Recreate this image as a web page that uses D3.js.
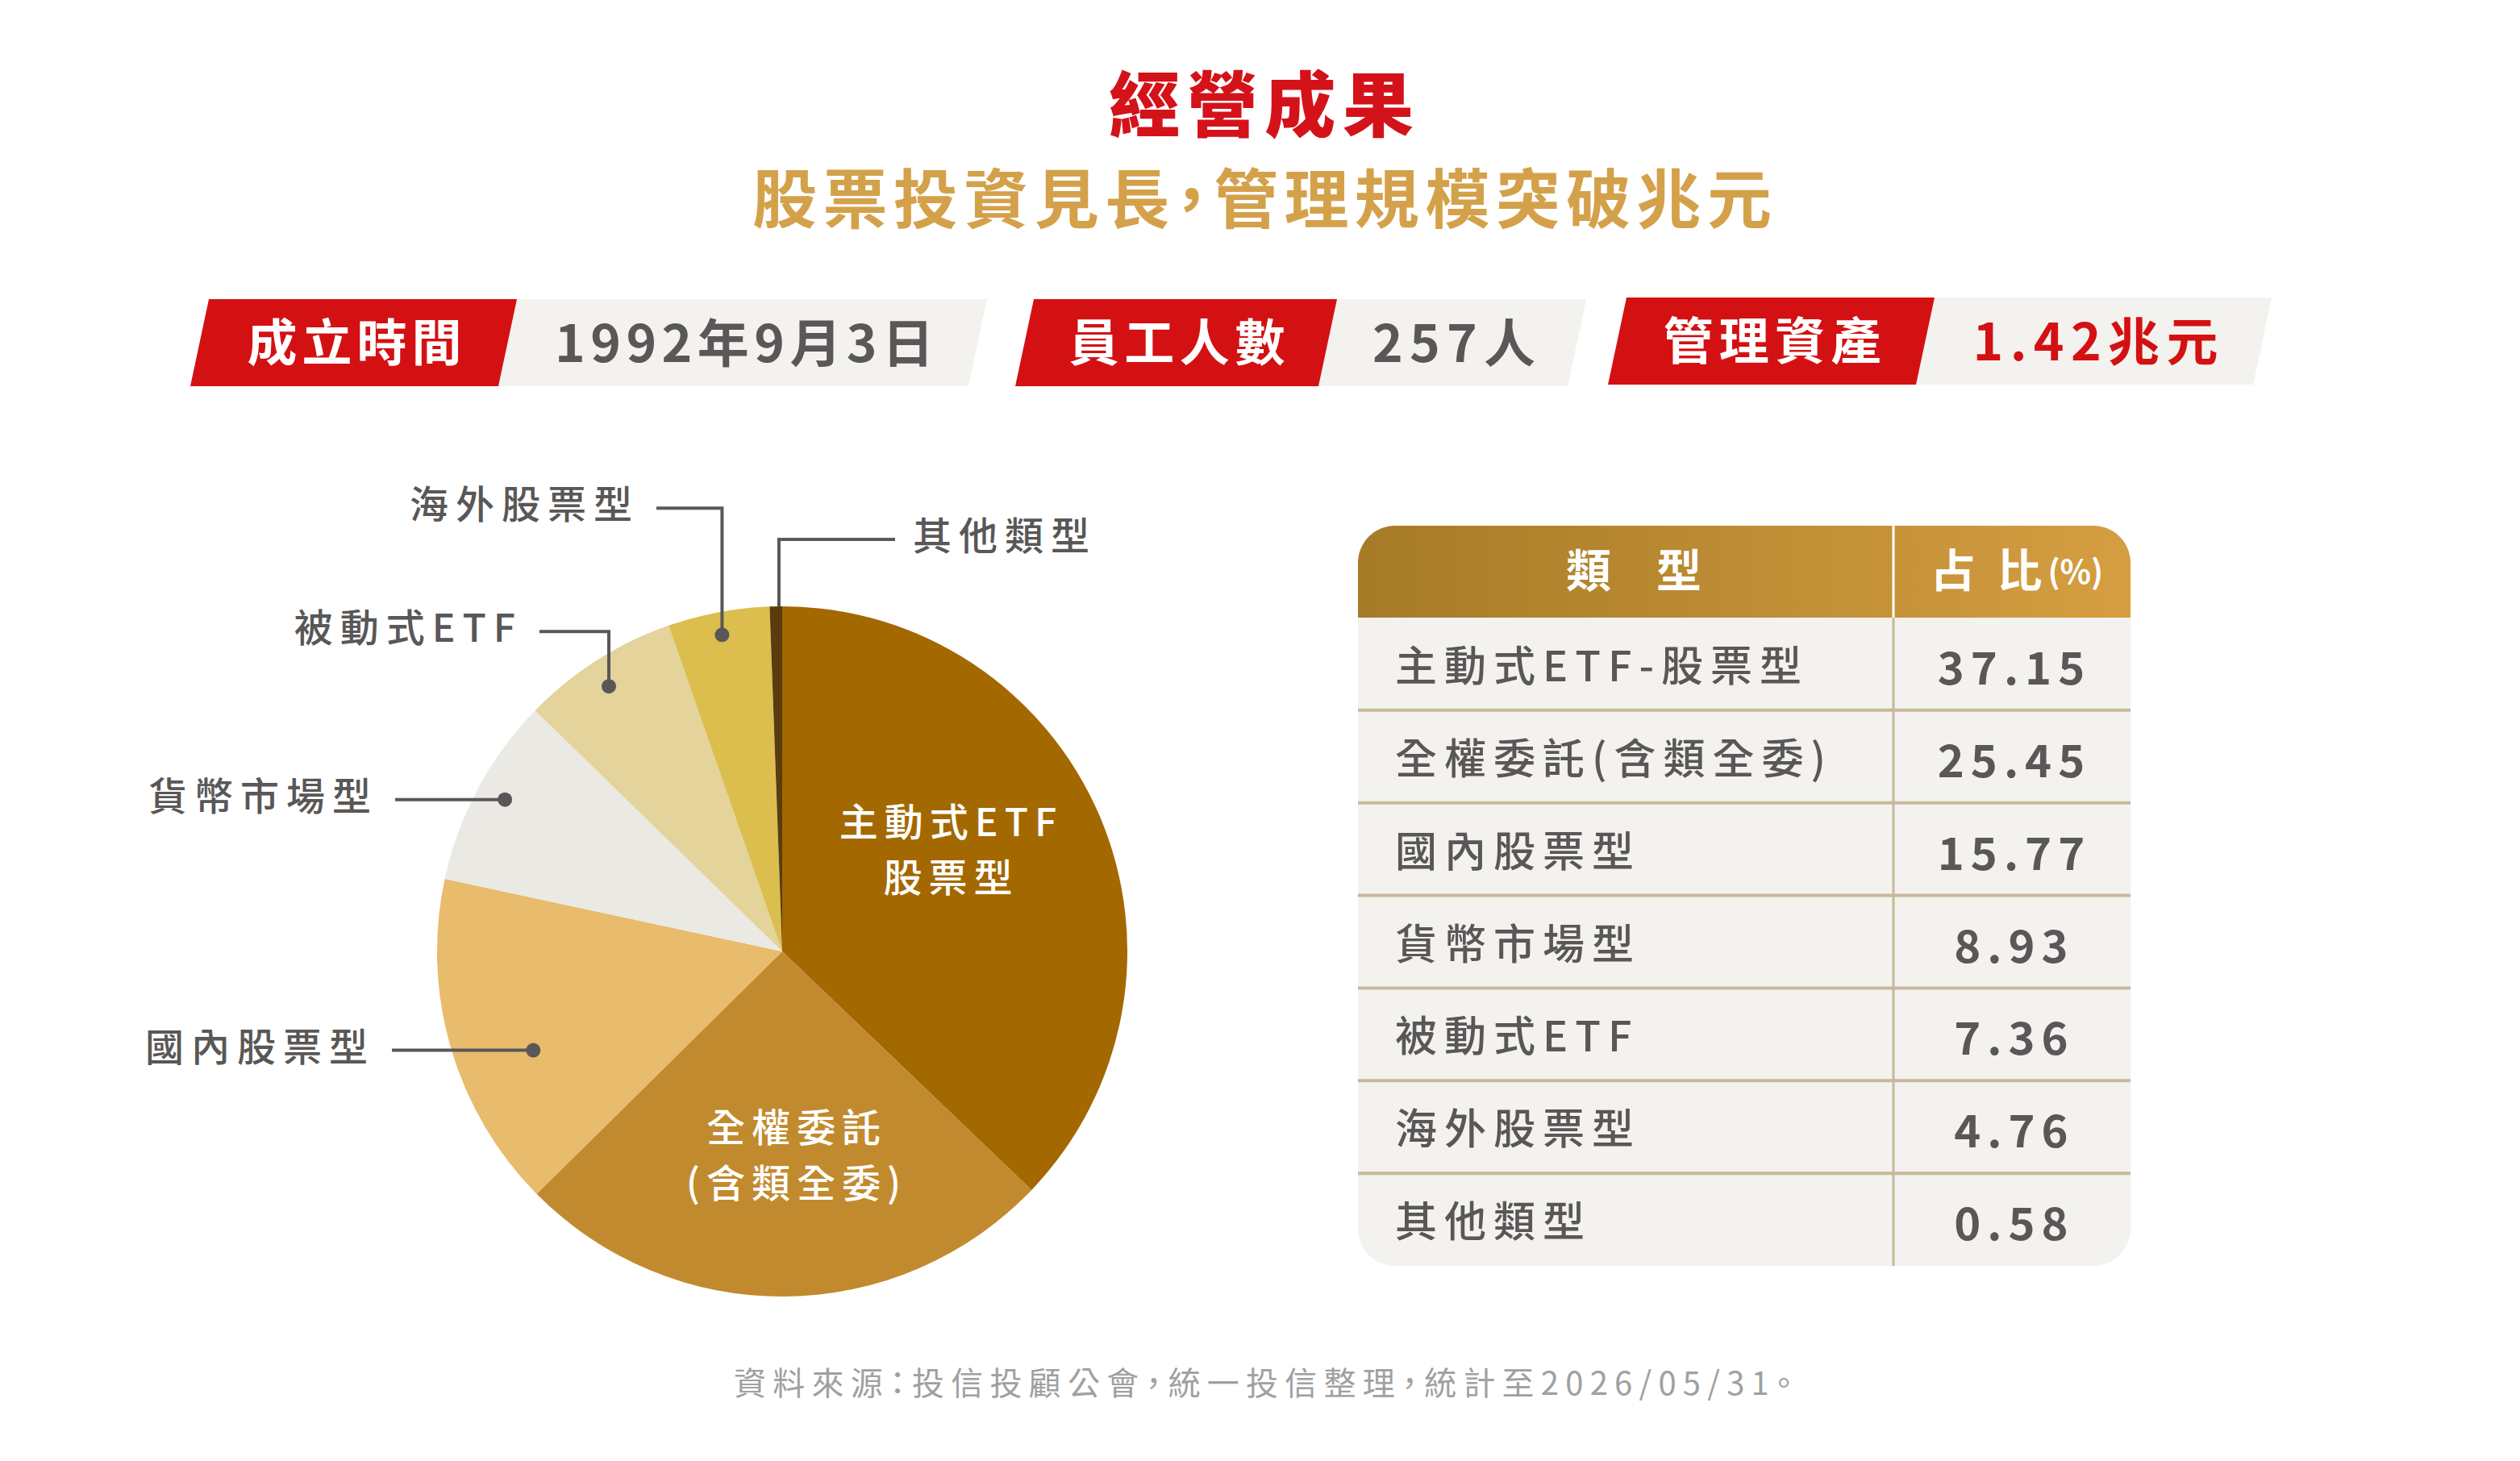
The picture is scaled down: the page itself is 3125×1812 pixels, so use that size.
<!DOCTYPE html>
<html><head><meta charset="utf-8">
<script src="https://cdn.jsdelivr.net/npm/d3@7"></script>
<style>
html,body{margin:0;padding:0;background:#fff;}
svg{display:block;}
text{font-family:"Noto Sans CJK TC","Noto Sans CJK SC",sans-serif;}
</style></head><body>
<svg id="chart" width="3125" height="1812"></svg>
<script>
// ---------- DATA ----------
const categories = ["主動式ETF-股票型","全權委託(含類全委)","國內股票型","貨幣市場型","被動式ETF","海外股票型","其他類型"];
const values = [37.15, 25.45, 15.77, 8.93, 7.36, 4.76, 0.58];
const pieLabels = [["主動式ETF","股票型"],["全權委託","(含類全委)"],["國內股票型"],["貨幣市場型"],["被動式ETF"],["海外股票型"],["其他類型"]];
const sliceColors = ["#A36800","#C28A2E","#E8BB6D","#EAE9E3","#E4D39A","#DBBE4E","#5A3C0E"];
const infoLabels = ["成立時間","員工人數","管理資產"];
const infoValues = ["1992年9月3日","257人","1.42兆元"];
const tableHeaders = ["類　型","占 比"];
const headerUnit = "(%)";
const titleText = "經營成果";
const subtitleText = "股票投資見長，管理規模突破兆元";
const sourceText = "資料來源：投信投顧公會，統一投信整理，統計至2026/05/31。";

// ---------- LAYOUT ----------
const svg = d3.select("#chart");
svg.append("rect").attr("width",3125).attr("height",1812).attr("fill","#fff");
const GRAY_TXT = "#595757", RED = "#D31113", PANEL = "#F3F2EE", TAN = "#C8B89B";
const TY = -4; // baseline correction

function txt(g, s, x, y, size, weight, fill, opts={}) {
  const t = g.append("text").attr("x", x).attr("y", y + TY)
    .attr("font-size", size).attr("font-weight", weight).attr("fill", fill)
    .attr("dominant-baseline","central")
    .attr("text-anchor", opts.anchor || "middle")
    .text(s);
  if (opts.len) t.attr("textLength", opts.len).attr("lengthAdjust","spacing");
  if (opts.ls) t.style("letter-spacing", opts.ls + "px");
  if (opts.palt) t.style("font-feature-settings", "'palt'");
  return t;
}

// Titles
txt(svg, titleText, 1564, 127, 88, 900, "#D4121A", {len: 378});
txt(svg, subtitleText, 1565, 245, 80, 700, "#D4A14B", {len: 1264, palt: true});

// Info bar
const info = [
  {x: 236, y: 371, redW: 382, grayW: 583},
  {x: 1259, y: 371, redW: 376, grayW: 309},
  {x: 1994, y: 369, redW: 382, grayW: 418}
];
const labelLens = [266, 268, 270];
const valueLens = [470, 202, 304];
const slant = 23, barH = 108;
info.forEach((b, i) => {
  const g = svg.append("g");
  const poly = (x0, w) => [[x0+slant,b.y],[x0+slant+w,b.y],[x0+w,b.y+barH],[x0,b.y+barH]];
  g.append("polygon").attr("points", poly(b.x + b.redW, b.grayW).join(" ")).attr("fill", PANEL);
  g.append("polygon").attr("points", poly(b.x, b.redW).join(" ")).attr("fill", RED);
  const cy = b.y + barH/2;
  txt(g, infoLabels[i], b.x + slant/2 + b.redW/2 + 1, cy, 62, 700, "#fff", {len: labelLens[i]});
  txt(g, infoValues[i], b.x + b.redW + slant/2 + b.grayW/2 + 2, cy, 64, 700, i === 2 ? RED : GRAY_TXT, {len: valueLens[i]});
});

// Pie
const cx = 970, cy = 1180, R = 428;
const pie = d3.pie().sort(null).value(d => d)(values);
const arc = d3.arc().innerRadius(0).outerRadius(R);
const pg = svg.append("g").attr("transform", `translate(${cx},${cy})`);
pg.selectAll("path").data(pie).join("path")
  .attr("d", arc).attr("fill", (d,i) => sliceColors[i]);

const polar = (r, a) => [r*Math.sin(a), -r*Math.cos(a)];
const deg = Math.PI/180;
// inside labels
const inside = [{idx:0, rf:0.57, da:-7.7}, {idx:1, rf:0.593, da:-3.6}];
inside.forEach(L => {
  const d = pie[L.idx];
  const [x, y] = polar(R*L.rf, (d.startAngle+d.endAngle)/2 + L.da*deg);
  const lines = pieLabels[L.idx];
  lines.forEach((s, k) => {
    txt(pg, s, x, y + (k - (lines.length-1)/2)*69, 48, 500, "#fff", {ls: 8});
  });
});
// outside labels with leaders
const outside = [
  {idx:2, rf:0.776, da:-5.4, rise:0,   lineTo:-484},
  {idx:3, rf:0.916, da:0.5,  rise:0,   lineTo:-480},
  {idx:4, rf:0.918, da:-0.7, rise:68,  lineTo:-301},
  {idx:5, rf:0.934, da:-0.1, rise:157, lineTo:-156},
  {idx:6, rf:1.0,   da:0.5,  rise:83,  lineTo:140, noDot:true}
];
const lg = svg.append("g").attr("transform", `translate(${cx},${cy})`);
outside.forEach(L => {
  const d = pie[L.idx];
  const [x, y] = polar(R*L.rf, (d.startAngle+d.endAngle)/2 + L.da*deg);
  const ey = y - L.rise;
  lg.append("path")
    .attr("d", `M${x},${y}L${x},${ey}L${L.lineTo},${ey}`)
    .attr("fill","none").attr("stroke", GRAY_TXT).attr("stroke-width", 4);
  if (!L.noDot) lg.append("circle").attr("cx", x).attr("cy", y).attr("r", 9).attr("fill", GRAY_TXT);
  const right = L.lineTo > x;
  const ls = 9;
  txt(lg, pieLabels[L.idx][0], right ? L.lineTo + 22 : L.lineTo - 30 + ls, ey - 4, 48, 500, GRAY_TXT,
      {anchor: right ? "start" : "end", ls: ls});
});

// Table
const tx0 = 1684, tx1 = 2642, ty0 = 652, headH = 114, ty1 = 1570, colX = 2348;
const defs = svg.append("defs");
const grad = defs.append("linearGradient").attr("id","hg").attr("x1","0").attr("x2","1").attr("y1","0").attr("y2","0");
grad.append("stop").attr("offset","0").attr("stop-color","#A67B27");
grad.append("stop").attr("offset","1").attr("stop-color","#D59E41");
defs.append("clipPath").attr("id","tclip").append("rect")
  .attr("x", tx0).attr("y", ty0).attr("width", tx1-tx0).attr("height", ty1-ty0).attr("rx", 46).attr("ry", 46);
const tg = svg.append("g").attr("clip-path","url(#tclip)");
tg.append("rect").attr("x", tx0).attr("y", ty0).attr("width", tx1-tx0).attr("height", ty1-ty0).attr("fill", PANEL);
tg.append("rect").attr("x", tx0).attr("y", ty0).attr("width", tx1-tx0).attr("height", headH).attr("fill","url(#hg)");
const yRow = d3.scaleBand().domain(categories).range([ty0+headH, ty1]);
tg.append("line").attr("x1", colX).attr("x2", colX).attr("y1", ty0).attr("y2", ty0+headH)
  .attr("stroke","#fff").attr("stroke-width",3);
tg.append("line").attr("x1", colX).attr("x2", colX).attr("y1", ty0+headH).attr("y2", ty1)
  .attr("stroke", TAN).attr("stroke-width",3);
tg.selectAll("line.sep").data(categories.slice(0,-1)).join("line").attr("class","sep")
  .attr("x1", tx0).attr("x2", tx1)
  .attr("y1", c => yRow(c)+yRow.bandwidth()).attr("y2", c => yRow(c)+yRow.bandwidth())
  .attr("stroke", TAN).attr("stroke-width",4);
categories.forEach((c, i) => {
  const yc = yRow(c) + yRow.bandwidth()/2 + 3;
  txt(tg, c, 1730, yc, 52, 500, GRAY_TXT, {anchor:"start", ls: 9});
  txt(tg, d3.format(".2f")(values[i]), 2498, yc + 2, 56, 700, GRAY_TXT, {ls: 8});
});
// header
const hy = ty0 + headH/2 - 2 + TY;
txt(tg, tableHeaders[0], 2026, ty0 + headH/2 - 2, 56, 700, "#fff");
const h2 = tg.append("text").attr("x", 2501).attr("y", hy).attr("text-anchor","middle")
  .attr("dominant-baseline","central").attr("fill","#fff").attr("font-weight",700);
h2.append("tspan").attr("font-size",56).style("letter-spacing","7px").text(tableHeaders[1]);
h2.append("tspan").attr("font-size",40).attr("dy", 4).text(headerUnit);

// Footer
txt(svg, sourceText, 1566, 1717, 40, 400, "#A0A0A0", {len: 1312, palt: true});
</script>
</body></html>
